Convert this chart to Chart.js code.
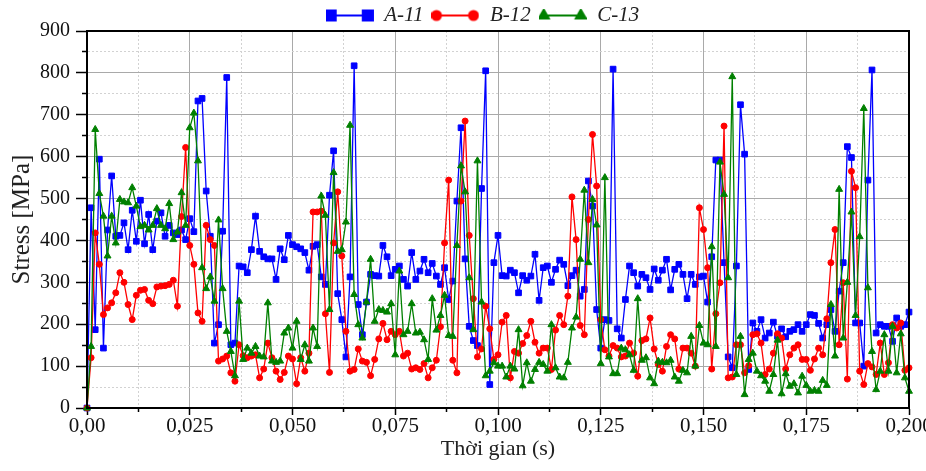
<!DOCTYPE html>
<html>
<head>
<meta charset="utf-8">
<script src="https://cdn.jsdelivr.net/npm/chart.js@4.4.1/dist/chart.umd.min.js"></script>
<style>
  html, body { margin: 0; padding: 0; background: #fff; }
  #wrap { width: 926px; height: 471px; position: relative; }
</style>
</head>
<body>
<div id="wrap"><canvas id="chart"></canvas></div>
<script>
// sample spacing of the recordings (s)
const timeStep = 0.001;

const seriesNames = ['A-11', 'B-12', 'C-13'];

// stress [MPa], one value per sample
const stressA = [
  0,478,187,594,143,425,554,410,412,442,
  378,472,398,496,392,462,378,446,466,410,
  436,418,414,425,402,452,421,733,739,518,
  410,155,199,422,789,151,155,339,337,323,
  378,458,374,
  361,356,356,307,380,354,412,390,385,380,
  371,329,386,390,313,295,508,614,273,211,
  122,313,817,247,175,253,319,316,315,388,
  361,316,331,339,307,291,371,307,327,
  355,323,345,315,295,335,259,303,494,669,
  356,195,161,149,524,805,56,347,412,316,
  315,329,323,275,316,305,315,367,257,335,
  339,300,331,353,343,292,316,329,
  267,283,542,482,235,143,211,209,809,189,
  167,259,339,323,291,319,311,283,332,305,
  329,355,282,331,343,319,261,319,295,313,
  315,253,361,592,592,347,122,96,339,724,
  606,92,203,183,211,167,179,205,171,189,
  170,183,187,199,183,199,223,221,202,167,
  199,235,183,279,347,624,598,203,203,100,
  544,807,179,199,195,195,159,215,195,199,
  229
];

const stressB = [
  0,120,418,343,223,239,251,275,323,300,
  247,211,269,281,283,257,249,289,291,292,
  295,305,243,457,622,388,343,227,207,436,
  402,388,112,117,124,84,64,151,125,120,
  124,127,72,
  93,155,120,88,68,85,124,117,58,120,
  88,131,468,468,470,225,85,394,516,363,
  183,88,92,141,112,109,77,116,165,202,
  163,183,175,183,124,131,93,96,92,
  106,72,96,114,194,394,544,114,84,494,
  685,412,261,122,141,243,189,116,127,205,
  221,72,135,131,154,173,207,157,131,143,
  143,92,186,221,199,267,504,402,
  197,175,450,653,530,211,139,124,149,143,
  122,124,155,131,76,161,165,215,141,104,
  88,147,175,165,93,143,143,131,100,478,
  426,335,93,225,299,673,72,74,151,
  151,84,101,175,177,155,80,93,131,177,
  167,93,127,143,151,116,116,90,117,143,
  127,213,347,426,151,299,69,565,526,88,
  56,106,98,80,155,80,108,199,191,203,
  90,96
];

const stressC = [
  0,147,665,512,458,363,458,394,498,492,
  490,526,482,433,436,425,436,476,436,428,
  488,402,420,514,436,669,704,590,335,285,
  313,255,449,285,183,135,77,255,116,143,
  131,147,124,
  122,251,112,109,112,179,191,143,207,116,
  151,112,191,147,506,460,235,562,374,378,
  444,675,271,199,167,253,355,207,235,233,
  229,249,127,327,175,183,249,179,181,
  163,116,261,186,221,269,173,171,388,578,
  516,311,187,590,253,77,88,108,100,100,
  74,100,93,187,53,108,64,92,109,104,
  88,199,96,74,72,109,191,217,
  355,520,347,498,437,106,550,122,82,82,
  143,139,127,90,261,114,120,72,58,112,
  109,108,114,74,64,90,84,171,100,197,
  155,151,385,147,587,510,311,791,80,
  171,32,116,131,88,77,64,40,80,162,
  34,82,52,58,36,76,54,40,42,40,
  66,54,247,124,522,167,300,468,221,409,
  715,287,135,44,88,175,88,195,84,177,
  72,40
];

const xTickValues = [0, 0.025, 0.05, 0.075, 0.1, 0.125, 0.15, 0.175, 0.2];
const xTickLabels = ['0,00', '0,025', '0,050', '0,075', '0,100', '0,125', '0,150', '0,175', '0,200'];
const yTickValues = [0, 100, 200, 300, 400, 500, 600, 700, 800, 900];
const yTickLabels = ['0', '100', '200', '300', '400', '500', '600', '700', '800', '900'];

const colors = ['#0000ff', '#ff0000', '#008000'];
const shapes = ['rect', 'circle', 'triangle'];
const FONT = "'Liberation Serif', 'Times New Roman', serif";

// major ticks plus one minor tick half way between each pair
function withMinor(major) {
  const out = [];
  major.forEach((v, i) => {
    out.push({value: v});
    if (i < major.length - 1) out.push({value: (v + major[i + 1]) / 2});
  });
  return out;
}

function toPoints(values) {
  return values.map((v, i) => ({x: i * timeStep, y: v}));
}

function legendIcon(color, shape, r) {
  const c = document.createElement('canvas');
  c.width = 48; c.height = 14;
  const g = c.getContext('2d');
  g.strokeStyle = color; g.fillStyle = color; g.lineWidth = 2;
  g.beginPath(); g.moveTo(5, 7); g.lineTo(42, 7); g.stroke();
  [5, 42].forEach(cx => {
    Chart.helpers.drawPoint(g, {pointStyle: shape, radius: r, rotation: 0, borderWidth: 1}, cx, 7);
  });
  return c;
}
const legendIcons = [
  legendIcon(colors[0], 'rect', 7),
  legendIcon(colors[1], 'circle', 4.5),
  legendIcon(colors[2], 'triangle', 5.8)
];

const stress = [stressA, stressB, stressC];
const radii = [4, 3, 4];

// later series are drawn over earlier ones, as in the original plot
const datasets = stress.map((vals, i) => ({
  label: seriesNames[i],
  data: toPoints(vals),
  order: stress.length - 1 - i,
  borderColor: colors[i],
  backgroundColor: colors[i],
  borderWidth: 1.3,
  pointStyle: shapes[i],
  pointRadius: radii[i],
  pointBorderWidth: 1,
  pointBackgroundColor: colors[i],
  pointBorderColor: colors[i],
  tension: 0,
  clip: 8
}));

const frame = {
  id: 'frame',
  beforeLayout(chart) {
    const lg = chart.legend;
    if (lg && !lg._patched) {
      const fit = lg.fit;
      lg.fit = function () { fit.call(this); this.height = 31; };
      lg._patched = true;
    }
  },
  afterLayout(chart) {
    if (chart.legend) {
      chart.legend.left += 56;
      chart.legend.top -= 3;
    }
  },
  afterDatasetsDraw(chart) {
    const {ctx, chartArea: a} = chart;
    ctx.save();
    ctx.strokeStyle = '#000';
    ctx.lineWidth = 2;
    ctx.strokeRect(a.left, a.top, a.right - a.left, a.bottom - a.top);
    ctx.restore();
  }
};

const gridColor = c => (c.index % 2 ? '#d2d2d2' : '#a9a9a9');

new Chart(document.getElementById('chart'), {
  type: 'line',
  data: {datasets},
  plugins: [frame],
  options: {
    responsive: true,
    maintainAspectRatio: false,
    animation: false,
    layout: {padding: {left: 0, right: 17, top: 0, bottom: 0}},
    plugins: {
      tooltip: {enabled: false},
      legend: {
        position: 'top',
        labels: {
          usePointStyle: true,
          pointStyleWidth: 48,
          padding: 8,
          color: '#222',
          font: {family: FONT, size: 21, style: 'italic'},
          generateLabels: chart => chart.data.datasets.map((ds, i) => ({
            text: ds.label,
            pointStyle: legendIcons[i],
            fontColor: '#222',
            lineWidth: 0,
            hidden: false,
            datasetIndex: i
          }))
        }
      }
    },
    scales: {
      x: {
        type: 'linear',
        min: 0,
        max: 0.2,
        afterBuildTicks: s => { s.ticks = withMinor(xTickValues); },
        afterFit: s => { s.height = 63; s.paddingRight = 0; s.paddingLeft = 0; },
        ticks: {
          autoSkip: false,
          maxRotation: 0,
          padding: 1,
          color: '#111',
          font: {family: FONT, size: 21, lineHeight: 1},
          callback: (v, i) => (i % 2 ? '' : xTickLabels[i / 2])
        },
        grid: {
          color: gridColor,
          lineWidth: 1,
          tickLength: 7,
          tickColor: '#000',
          tickWidth: 1.5,
          tickBorderDash: c => (c.index % 2 ? [3, 50] : [])
        },
        border: {color: '#000', width: 2, dash: c => (c.index % 2 ? [2, 2] : [])},
        title: {
          display: true,
          text: 'Thời gian (s)',
          color: '#222',
          font: {family: FONT, size: 22},
          padding: {top: 0, bottom: 9}
        }
      },
      y: {
        min: 0,
        max: 900,
        afterBuildTicks: s => { s.ticks = withMinor(yTickValues); },
        afterFit: s => { s.width = 87; },
        ticks: {
          autoSkip: false,
          padding: 6,
          color: '#111',
          font: {family: FONT, size: 20},
          callback: (v, i) => (i % 2 ? '' : yTickLabels[i / 2])
        },
        grid: {
          color: gridColor,
          lineWidth: 1,
          tickLength: 11,
          tickColor: '#000',
          tickWidth: 1.5,
          tickBorderDash: c => (c.index % 2 ? [0, 6, 5, 50] : [])
        },
        border: {color: '#000', width: 2, dash: c => (c.index % 2 ? [2, 2] : [])},
        title: {
          display: true,
          text: 'Stress [MPa]',
          color: '#222',
          font: {family: FONT, size: 25},
          padding: {top: 7, bottom: 0}
        }
      }
    }
  }
});
</script>
</body>
</html>
